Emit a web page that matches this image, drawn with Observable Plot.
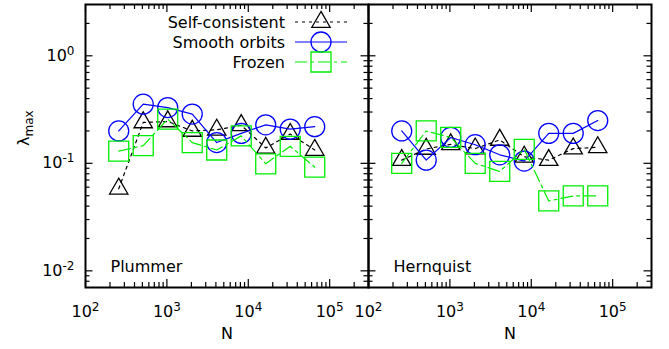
<!DOCTYPE html>
<html><head><meta charset="utf-8">
<script src="https://cdn.jsdelivr.net/npm/d3@7"></script>
<script src="https://cdn.jsdelivr.net/npm/@observablehq/plot@0.6"></script>
<style>body{margin:0;background:#fff} #chart{width:669px;height:349px}</style>
</head><body><div id="chart"></div>
<script>
// ---- data ----
const N = [256, 512, 1024, 2048, 4096, 8192, 16384, 32768, 65536];
const panels = ["Plummer", "Hernquist"];
const series = ["Self-consistent", "Smooth orbits", "Frozen"];
const plummerSelf     = [0.058, 0.24, 0.245, 0.20, 0.205, 0.226, 0.139, 0.187, 0.133];
const plummerSmooth   = [0.20, 0.355, 0.33, 0.287, 0.156, 0.19, 0.228, 0.208, 0.219];
const plummerFrozen   = [0.13, 0.146, 0.258, 0.156, 0.133, 0.18, 0.099, 0.144, 0.092];
const hernquistSelf   = [0.107, 0.136, 0.150, 0.137, 0.165, 0.115, 0.107, 0.137, 0.141];
const hernquistSmooth = [0.20, 0.107, 0.174, 0.149, 0.12, 0.105, 0.19, 0.19, 0.25];
const hernquistFrozen = [0.10, 0.20, 0.174, 0.10, 0.084, 0.135, 0.0447, 0.0497, 0.0497];
const xTickValues = [1e2, 1e3, 1e4, 1e5];
const yTickValues = [1e-2, 1e-1, 1e0];
const xDomain = [100, 3e5];
const yDomain = [0.007, 3];

const values = {
  Plummer: {"Self-consistent": plummerSelf, "Smooth orbits": plummerSmooth, "Frozen": plummerFrozen},
  Hernquist: {"Self-consistent": hernquistSelf, "Smooth orbits": hernquistSmooth, "Frozen": hernquistFrozen}
};
const rows = [];
panels.forEach(p => series.forEach(s => values[p][s].forEach((v, i) => rows.push({panel: p, series: s, N: N[i], v}))));

const styles = {
  "Self-consistent": {stroke: "#000000", dash: "3,4", symbol: "triangle", r: 6.8},
  "Smooth orbits": {stroke: "#0000ff", dash: null, symbol: "circle", r: 10},
  "Frozen": {stroke: "#00ee00", dash: "12,4,3,4", symbol: "square", r: 11.28}
};

function minors(lo, hi) {
  const out = [];
  for (let k = Math.floor(Math.log10(lo)); k <= Math.ceil(Math.log10(hi)); k++)
    for (let m = 2; m <= 9; m++) { const v = m * Math.pow(10, k); if (v >= lo * 1.0001 && v <= hi * 0.9999) out.push(v); }
  return out;
}
const xMinor = minors(...xDomain), yMinor = minors(...yDomain);

const mL = 84, mR = 18, mT = 4, mB = 62, Wd = 669, Ht = 349;
const H = Ht - mT - mB, W = (Wd - mL - mR) / 2;
const fmt = d => "10^" + Math.round(Math.log10(d));

const marks = [];
for (const s of series) {
  const st = styles[s];
  const d = rows.filter(r => r.series === s);
  marks.push(Plot.line(d, {x: "N", y: "v", fx: "panel", z: "panel", stroke: st.stroke, strokeWidth: 1.2, strokeDasharray: st.dash}));
  marks.push(Plot.dot(d, {x: "N", y: "v", fx: "panel", symbol: st.symbol, r: st.r, stroke: st.stroke, fill: "none", strokeWidth: 1.3}));
}
const tk = {stroke: "black", strokeWidth: 1.2};
marks.push(
  Plot.tickX(xTickValues, {...tk, insetTop: H - 8}),
  Plot.tickX(xTickValues, {...tk, insetBottom: H - 8}),
  Plot.tickX(xMinor, {...tk, insetTop: H - 5}),
  Plot.tickX(xMinor, {...tk, insetBottom: H - 5}),
  Plot.tickY(yTickValues, {...tk, insetRight: W - 8}),
  Plot.tickY(yTickValues, {...tk, insetLeft: W - 8}),
  Plot.tickY(yMinor, {...tk, insetRight: W - 5}),
  Plot.tickY(yMinor, {...tk, insetLeft: W - 5}),
  Plot.frame({stroke: "black", strokeWidth: 2}),
  Plot.axisX({ticks: xTickValues, tickFormat: fmt, tickSize: 0, tickPadding: 18, label: null}),
  Plot.axisY({ticks: yTickValues, tickFormat: fmt, tickSize: 0, tickPadding: 11, label: null}),
  Plot.text(panels, {fx: d => d, text: d => d, frameAnchor: "bottom-left", dx: 25, dy: -16, textAnchor: "start"}),
  Plot.text(panels, {fx: d => d, text: () => "N", frameAnchor: "bottom", dy: 51}),
  Plot.text(["λmax"], {fx: () => "Plummer", text: d => d, frameAnchor: "left", dx: -62, rotate: -90})
);

const chart = Plot.plot({
  width: Wd, height: Ht,
  marginLeft: mL, marginRight: mR, marginTop: mT, marginBottom: mB,
  style: {fontFamily: "DejaVu Sans", fontSize: "16px", background: "white", color: "black"},
  fx: {domain: panels, padding: 0, axis: null},
  x: {type: "log", domain: xDomain},
  y: {type: "log", domain: yDomain},
  marks
});
document.getElementById("chart").appendChild(chart);

// superscripts / subscripts
const ns = "http://www.w3.org/2000/svg";
chart.querySelectorAll("text").forEach(t => {
  const m = t.textContent.match(/^10\^(-?\d+)$/);
  if (m) {
    t.textContent = "10";
    const ts = document.createElementNS(ns, "tspan");
    ts.setAttribute("dy", "-6"); ts.setAttribute("font-size", "12");
    ts.textContent = m[1]; t.appendChild(ts);
  } else if (t.textContent === "λmax") {
    t.textContent = "λ";
    const ts = document.createElementNS(ns, "tspan");
    ts.setAttribute("dy", "4"); ts.setAttribute("font-size", "12");
    ts.textContent = "max"; t.appendChild(ts);
  }
});

// legend
const lg = d3.select(chart).append("g").attr("font-family", "DejaVu Sans").attr("font-size", 16);
const symMap = {triangle: d3.symbolTriangle, circle: d3.symbolCircle, square: d3.symbolSquare};
series.forEach((s, i) => {
  const st = styles[s], y = 22 + i * 20;
  lg.append("text").attr("x", 285).attr("y", y).attr("dy", "0.35em").attr("text-anchor", "end").text(s);
  lg.append("line").attr("x1", 295).attr("x2", 347).attr("y1", y).attr("y2", y)
    .attr("stroke", st.stroke).attr("stroke-width", 1.2).attr("stroke-dasharray", st.dash);
  lg.append("path").attr("transform", `translate(321,${y})`)
    .attr("d", d3.symbol(symMap[st.symbol], st.r * st.r * Math.PI)())
    .attr("fill", "none").attr("stroke", st.stroke).attr("stroke-width", 1.3);
});
</script></body></html>
